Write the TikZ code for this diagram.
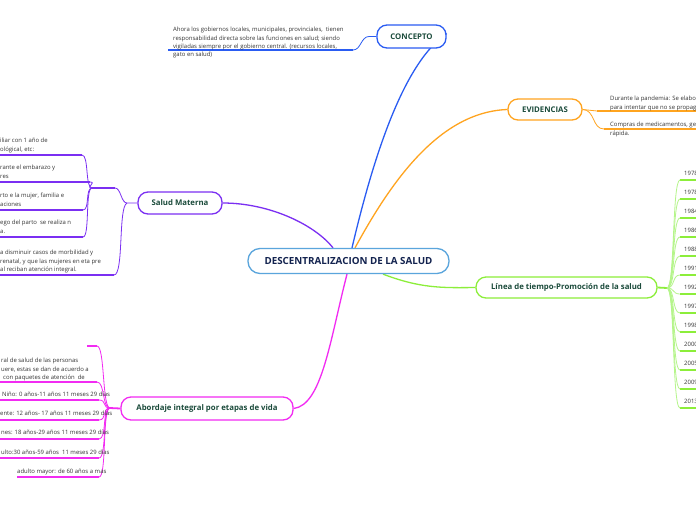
\documentclass[tikz,border=0pt]{standalone}
\usepackage{fontspec}
\setmainfont{Open Sans}
\usetikzlibrary{backgrounds,calc}
\definecolor{cblue}{HTML}{2A5CF2}
\definecolor{corange}{HTML}{FFA41F}
\definecolor{cpurple}{HTML}{7B2FF2}
\definecolor{cmag}{HTML}{F22BF2}
\definecolor{cgreen}{HTML}{8CEE3A}
\definecolor{cgreenlt}{HTML}{B5F58A}
\definecolor{ccentral}{HTML}{5AA5DC}
\definecolor{tnavy}{HTML}{13234F}
\definecolor{tgreen}{HTML}{1B4B3B}
\definecolor{tgray}{HTML}{333333}
\begin{document}
\begin{tikzpicture}[x=1pt,y=-1pt,
  topicbox/.style={draw, rounded corners=10pt, fill=white, line width=1.3pt,
    font=\fontsize{7.8}{9}\selectfont\bfseries, text=tgreen, inner sep=0pt},
  centralbox/.style={draw=ccentral, rounded corners=12pt, fill=white, line width=1.3pt,
    font=\fontsize{9.8}{11}\selectfont\bfseries, text=tnavy, inner sep=0pt,
    minimum width=201pt, minimum height=25pt},
  bodytext/.style={font=\fontsize{5.95}{8.4}\selectfont, text=tgray, align=left,
    inner sep=0pt, anchor=north west},
  mainline/.style={line width=1.3pt},
  ulstyle/.style={line width=1.8pt},
  brstyle/.style={line width=0.8pt}]
\useasboundingbox (0,0) rectangle (696,520);
\clip (0,0) rectangle (696,520);

% main nodes
\node[centralbox] (central) at (348.5,261) {DESCENTRALIZACION DE LA SALUD};
\node[topicbox, draw=cblue, minimum width=69pt, minimum height=23pt] (concepto) at (411.5,36.5) {CONCEPTO};
\node[topicbox, draw=corange, minimum width=74pt, minimum height=21pt] (evid) at (545,109.5) {EVIDENCIAS};
\node[topicbox, draw=cpurple, minimum width=84pt, minimum height=22pt] (salud) at (180,203) {Salud Materna};
\node[topicbox, draw=cmag, minimum width=172pt, minimum height=23pt] (abord) at (207,408.5) {Abordaje integral por etapas de vida};
\node[topicbox, draw=cgreen, minimum width=181pt, minimum height=21pt] (linea) at (566.5,287.5) {Línea de tiempo-Promoción de la salud};

% concepto text
\node[bodytext] (ctext) at (173,27) {Ahora los gobiernos locales, municipales, provinciales,\ \ tienen\\responsabilidad directa sobre las funciones en salud; siendo\\vigiladas siempre por el gobierno central. (recursos locales,\\gato en salud)};

% evidencias text
\node[bodytext] (etext1) at (610,96) {Durante la pandemia: Se elabo\\para intentar que no se propag};
\node[bodytext] (etext2) at (610,122) {Compras de medicamentos, ge\\rápida.};

% salud materna texts
\node[bodytext] (s1) at (0,138) {iliar con 1 año de\\ológical, etc:};
\node[bodytext] (s2) at (0,165) {rante el embarazo y\\res};
\node[bodytext] (s3) at (0,193) {rto e la mujer, familia e\\aciones};
\node[bodytext] (s4) at (0,220) {ego del parto\ \ se realiza n\\a.};
\node[bodytext] (s5) at (0,250) {a disminuir casos de morbilidad y\\renatal, y que las mujeres en eta pre\\al reciban atención integral.};

% abordaje texts
\node[bodytext] (a1) at (1,358) {ral de salud de las personas\\uere, estas se dan de acuerdo a\\\hspace*{2pt}con paquetes de atención\ \ de};
\node[bodytext] (a2) at (2,392) {Niño: 0 años-11 años 11 meses 29 días};
\node[bodytext] (a3) at (0,411) {ente: 12 años- 17 años 11 meses 29 días};
\node[bodytext] (a4) at (1,430) {nes: 18 años-29 años 11 meses 29 días};
\node[bodytext] (a5) at (1,450) {ulto:30 años-59 años\ \ 11 meses 29 días};
\node[bodytext] (a6) at (17,469) {adulto mayor: de 60 años a mas};

% coordinates
\coordinate (cuL) at (168,50); \coordinate (cuR) at (353,50);
\coordinate (e1) at (597,111); \coordinate (e1R) at (700,111);
\coordinate (e2) at (604,129); \coordinate (e2R) at (700,129);
\coordinate (sj) at (127,203);
\coordinate (h1L) at (92,188); \coordinate (h1R) at (115,188);
\coordinate (c1L) at (-5,155); \coordinate (c1R) at (82,155);
\coordinate (c2L) at (-5,182); \coordinate (c2R) at (90,182);
\coordinate (c3L) at (-5,210); \coordinate (c3R) at (83,210);
\coordinate (c4L) at (-5,237); \coordinate (c4R) at (83,237);
\coordinate (c5L) at (-5,275); \coordinate (c5R) at (114,275);
\coordinate (aj) at (110,408);
\coordinate (b0L) at (87,346); \coordinate (b0R) at (97,346);
\coordinate (b1L) at (-5,382); \coordinate (b1R) at (97,382);
\coordinate (b2L) at (-5,400); \coordinate (b2R) at (99,400);
\coordinate (b3L) at (-5,420); \coordinate (b3R) at (99,420);
\coordinate (b4L) at (-5,439); \coordinate (b4R) at (99,439);
\coordinate (b5L) at (-5,458); \coordinate (b5R) at (99,458);
\coordinate (b6L) at (17,477); \coordinate (b6R) at (99,477);
\coordinate (lj) at (667,288);

% timeline years
\foreach \yr [count=\i] in {1978,1978,1984,1986,1988,1991,1992,1997,1998,2000,2005,2009,2013}{
  \pgfmathsetmacro\yy{180+19*(\i-1)}
  \coordinate (t\i) at (680,\yy);
  \coordinate (tR\i) at (700,\yy);
  \node[bodytext, anchor=base west] (yr\i) at (684,\yy-5) {\yr};
}

\begin{scope}[on background layer]
\fill[white] (0,0) rectangle (696,520);
% main connectors
\draw[cblue, mainline] ([xshift=3.5pt]central.north) .. controls (375,150) and (405,62) .. ([yshift=3pt]concepto.east);
\draw[corange, mainline] ([xshift=6.5pt]central.north) .. controls (392,180) and (440,112) .. (evid.west);
\draw[cpurple, mainline] ([xshift=-15.5pt]central.north) .. controls (315,225) and (270,203) .. (salud.east);
\draw[cmag, mainline] ([xshift=-1.5pt]central.south) .. controls (330,340) and (322,405) .. (abord.east);
\draw[cgreen, mainline] ([xshift=34.5pt]central.south) .. controls (420,288) and (440,288) .. (linea.west);

% concepto branch
\draw[cblue, ulstyle] (cuL) -- (cuR);
\draw[cblue, brstyle] (concepto.west) -- (369,36.5) .. controls (361,36.5) and (361,50) .. (cuR);

% evidencias branches
\draw[corange, ulstyle] (e1) -- (e1R);
\draw[corange, ulstyle] (e2) -- (e2R);
\draw[corange, brstyle] (evid.east) .. controls (590,109.5) and (590,111) .. (e1);
\draw[corange, brstyle] (evid.east) .. controls (595,109.5) and (592,129) .. (e2);

% salud materna branches
\draw[cpurple, brstyle] (salud.west) -- (sj) .. controls (121,203) and (121,188) .. (h1R);
\draw[cpurple, brstyle] (sj) .. controls (118,207) and (124,275) .. (c5R);
\draw[cpurple, ulstyle] (h1L) -- (h1R);
\foreach \k in {1,2,3,4}{
  \draw[cpurple, ulstyle] (c\k L) -- (c\k R);
  \draw[cpurple, brstyle] (h1L) .. controls ($(h1L)+(-7,0)$) and ($(c\k R)+(7,0)$) .. (c\k R);
}
\draw[cpurple, ulstyle] (c5L) -- (c5R);

% abordaje branches
\draw[cmag, ulstyle] (abord.west) -- (aj);
\foreach \k in {0,1,2,3,4,5,6}{
  \draw[cmag, ulstyle] (b\k L) -- (b\k R);
  \draw[cmag, brstyle] (aj) .. controls (102,408) and ($(b\k R)+(8,0)$) .. (b\k R);
}

% timeline branches
\draw[cgreen, ulstyle] (linea.east) -- (lj);
\foreach \i in {1,...,13}{
  \draw[cgreen, ulstyle] (t\i) -- (tR\i);
  \draw[cgreenlt, brstyle] (lj) .. controls (675,288) and ($(t\i)+(-8,0)$) .. (t\i);
}
\end{scope}
\end{tikzpicture}
\end{document}
